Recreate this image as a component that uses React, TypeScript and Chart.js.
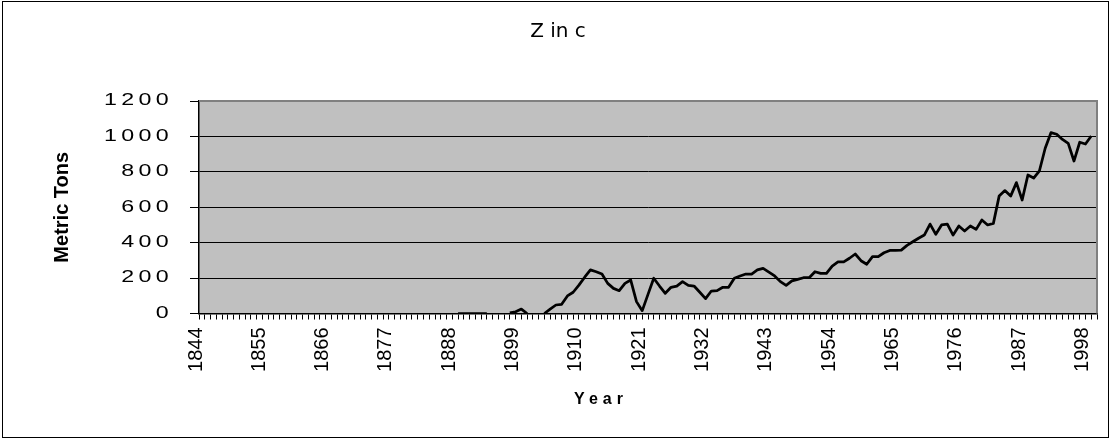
import { useEffect, useRef } from 'react';
import { Chart, registerables } from 'chart.js';

Chart.register(...registerables);

// Categories: every year from 1844 to 2000
const years: string[] = [];
for (let y = 1844; y <= 2000; y++) years.push(String(y));

// Year labels shown on the axis
const labelYears = ['1844', '1855', '1866', '1877', '1888', '1899', '1910', '1921', '1932', '1943', '1954', '1965', '1976', '1987', '1998'];

// Zinc, metric tons
const zinc: (number | null)[] = [
  // 1844-1849
  null, null, null, null, null, null,
  // 1850-1859
  null, null, null, null, null, null, null, null, null, null,
  // 1860-1869
  null, null, null, null, null, null, null, null, null, null,
  // 1870-1879
  null, null, null, null, null, null, null, null, null, null,
  // 1880-1888
  null, null, null, null, null, null, null, null, null,
  // 1889-1894
  0, 0, 0, 0, 0, 0,
  // 1895-1897
  null, null, null,
  // 1898-1899
  3, 10,
  // 1900-1909
  25, 0, null, null, 0, 25, 48, 52, 99, 120,
  // 1910-1919
  160, 205, 246, 236, 223, 170, 142, 129, 170, 189,
  // 1920-1929
  67, 16, 108, 199, 155, 114, 148, 155, 180, 159,
  // 1930-1939
  155, 120, 84, 127, 129, 148, 148, 199, 212, 223,
  // 1940-1949
  223, 246, 255, 234, 212, 180, 159, 184, 193, 202,
  // 1950-1959
  202, 236, 227, 227, 268, 291, 291, 312, 336, 298,
  // 1960-1969
  278, 321, 321, 343, 356, 357, 358, 385, 405, 425,
  // 1970-1979
  443, 505, 447, 500, 505, 443, 494, 466, 494, 475,
  // 1980-1989
  528, 500, 509, 663, 694, 663, 739, 641, 782, 765,
  // 1990-1999
  806, 933, 1021, 1012, 983, 961, 861, 967, 957, 1002,
  // 2000
  null,
];

const Y_TICK_LEN = 9;
const Y_TICK_PAD = 17;

const framePlugin = {
  id: 'frame',
  beforeDraw(chart: any) {
    const { ctx, chartArea: a } = chart;
    ctx.save();
    ctx.fillStyle = '#ffffff';
    ctx.fillRect(0, 0, chart.width, chart.height);
    ctx.strokeStyle = '#000000';
    ctx.lineWidth = 1;
    ctx.strokeRect(2.5, 1.5, 1106, 436);
    ctx.fillStyle = '#c0c0c0';
    ctx.fillRect(a.left, a.top, a.right - a.left, a.bottom - a.top);
    ctx.restore();

    const ys = chart.scales.y;
    if (ys && !ys.__patched) {
      ys.__patched = true;
      ys.drawLabels = function (area: any) {
        const c = this.ctx;
        c.save();
        const ax = this.right - Y_TICK_LEN - Y_TICK_PAD;
        c.translate(ax, 0);
        c.scale(1.45, 1);
        c.translate(-ax, 0);
        c.letterSpacing = '3px';
        Object.getPrototypeOf(this).drawLabels.call(this, area);
        c.restore();
      };
    }
    const xs = chart.scales.x;
    if (xs && !xs.__patched) {
      xs.__patched = true;
      xs.drawTitle = function () {
        const c = this.ctx;
        c.save();
        c.translate(-47, 0);
        c.letterSpacing = '5px';
        Object.getPrototypeOf(this).drawTitle.call(this);
        c.restore();
      };
    }
  },
  beforeDatasetsDraw(chart: any) {
    const { ctx, chartArea: a } = chart;
    ctx.save();
    ctx.strokeStyle = '#808080';
    ctx.lineWidth = 2;
    ctx.beginPath();
    ctx.moveTo(a.left, a.top);
    ctx.lineTo(a.right, a.top);
    ctx.lineTo(a.right, a.bottom);
    ctx.stroke();
    ctx.restore();
  },
};

export default function App() {
  const ref = useRef<HTMLCanvasElement | null>(null);

  useEffect(() => {
    if (!ref.current) return;
    const chart = new Chart(ref.current, {
      type: 'line',
      data: {
        labels: years,
        datasets: [
          {
            label: 'Zinc',
            data: zinc,
            borderColor: '#000000',
            borderWidth: 2.75,
            pointRadius: 0,
            tension: 0,
            spanGaps: false,
            fill: false,
            borderJoinStyle: 'round',
          },
        ],
      },
      options: {
        animation: false,
        responsive: false,
        events: [],
        layout: { padding: { left: 0, right: 0, top: 0, bottom: 0 } },
        plugins: {
          legend: { display: false },
          tooltip: { enabled: false },
          title: {
            display: true,
            text: 'Z in c',
            color: '#000000',
            font: { family: 'DejaVu Sans', size: 20, weight: 'normal' },
            padding: { top: 20, bottom: 57 },
          },
        },
        scales: {
          x: {
            type: 'category',
            offset: false,
            grid: {
              display: true,
              drawOnChartArea: false,
              drawTicks: true,
              tickLength: 6,
              color: '#000000',
              lineWidth: 1,
              offset: false,
            },
            border: { display: true, color: '#000000', width: 1.5 },
            ticks: {
              autoSkip: false,
              maxRotation: 90,
              minRotation: 90,
              padding: 8,
              labelOffset: -3,
              color: '#000000',
              font: { family: 'Liberation Sans', size: 20 },
              callback: function (_v: any, i: number) {
                const l = years[i];
                return labelYears.includes(l) ? l : '';
              },
            },
            title: {
              display: true,
              text: 'Year',
              color: '#000000',
              font: { family: 'Liberation Sans', size: 16, weight: 'bold' },
              padding: { top: 0, bottom: 30 },
            },
            afterFit: (s: any) => {
              s.height = 125.5;
              s.paddingRight = 19;
              s.paddingLeft = 0;
            },
          },
          y: {
            min: 0,
            max: 1200,
            ticks: {
              stepSize: 200,
              padding: Y_TICK_PAD,
              color: '#000000',
              font: { family: 'Liberation Sans', size: 16 },
              callback: (v: any) => String(v),
            },
            grid: { color: '#000000', lineWidth: 1, drawTicks: true, tickLength: Y_TICK_LEN },
            border: { display: true, color: '#000000', width: 1.5 },
            title: {
              display: true,
              text: 'Metric Tons',
              color: '#000000',
              font: { family: 'Liberation Sans', size: 20, weight: 'bold' },
              padding: { top: 50, bottom: 0 },
            },
            afterFit: (s: any) => {
              s.width = 199;
            },
          },
        },
      },
      plugins: [framePlugin],
    } as any);
    chart.draw();
    return () => chart.destroy();
  }, []);

  return (
    <div style={{ position: 'fixed', left: 0, top: 0, width: 1116, height: 439 }}>
      <canvas ref={ref} width={1116} height={439} style={{ display: 'block' }} />
    </div>
  );
}
